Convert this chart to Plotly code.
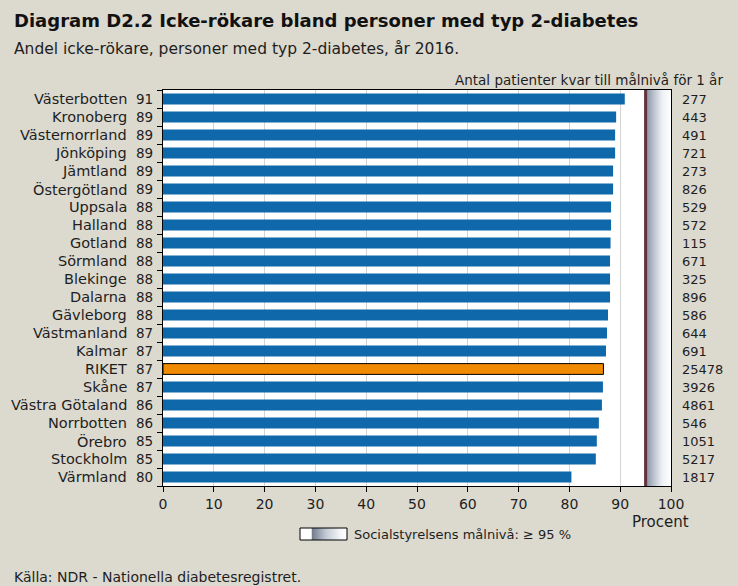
import plotly.graph_objects as go

regions = ["Västerbotten", "Kronoberg", "Västernorrland", "Jönköping", "Jämtland",
           "Östergötland", "Uppsala", "Halland", "Gotland", "Sörmland", "Blekinge",
           "Dalarna", "Gävleborg", "Västmanland", "Kalmar", "RIKET", "Skåne",
           "Västra Götaland", "Norrbotten", "Örebro", "Stockholm", "Värmland"]
percent = [90.9, 89.2, 89.0, 89.0, 88.6, 88.6, 88.2, 88.2, 88.1, 88.0, 88.0,
           88.0, 87.6, 87.4, 87.2, 86.7, 86.6, 86.4, 85.8, 85.4, 85.2, 80.4]
patients_left = [277, 443, 491, 721, 273, 826, 529, 572, 115, 671, 325,
                 896, 586, 644, 691, 25478, 3926, 4861, 546, 1051, 5217, 1817]
x_ticks = [0, 10, 20, 30, 40, 50, 60, 70, 80, 90, 100]
target = 95

W, H = 738, 586
BG = "#dcd9cf"
BLUE = "#0e68aa"
ORANGE = "#f08a00"
TXT = "#1e1e1e"
FONT = "DejaVu Sans"

# plot area pixel box
PX0, PX1, PY0, PY1 = 163, 671, 90, 486


def px(x):
    return x / W


def py(y):
    return 1 - y / H


idx = list(range(len(regions)))
colors = [ORANGE if r == "RIKET" else BLUE for r in regions]
lw = [1 if r == "RIKET" else 0 for r in regions]

fig = go.Figure()

# target zone gradient (95-100)
fig.add_trace(go.Scatter(
    x=[target, 100, 100, target, target], y=[0, 0, 1, 1, 0],
    xaxis="x", yaxis="y2", mode="lines", line=dict(width=0),
    fill="toself",
    fillgradient=dict(type="horizontal",
                      colorscale=[[0, "#8590a3"], [0.35, "#bfc6d2"], [0.65, "#eef0f4"], [1, "#ffffff"]]),
    hoverinfo="skip", showlegend=False))

fig.add_trace(go.Bar(
    x=percent, y=idx, orientation="h", xaxis="x", yaxis="y",
    marker=dict(color=colors, line=dict(color="#000000", width=lw)),
    width=0.6, showlegend=False))

# legend swatch gradient
fig.add_trace(go.Scatter(
    x=[0.25, 1, 1, 0.25, 0.25], y=[0, 0, 1, 1, 0],
    xaxis="x3", yaxis="y3", mode="lines", line=dict(width=0),
    fill="toself",
    fillgradient=dict(type="horizontal",
                      colorscale=[[0, "#6f7a8c"], [0.4, "#c3c9d3"], [0.8, "#f3f5f8"], [1, "#ffffff"]]),
    hoverinfo="skip", showlegend=False))

shapes = [
    dict(type="rect", xref="x domain", yref="y domain", x0=0, x1=1, y0=0, y1=1,
         fillcolor="white", line=dict(width=0), layer="below"),
    dict(type="line", xref="x", yref="y domain", x0=target, x1=target, y0=0, y1=1,
         line=dict(color="#66303c", width=3), layer="above"),
    dict(type="rect", xref="paper", yref="paper", x0=px(300), x1=px(347), y0=py(540), y1=py(528),
         fillcolor="white", line=dict(width=0), layer="below"),
    dict(type="rect", xref="paper", yref="paper", x0=px(300), x1=px(347), y0=py(540), y1=py(528),
         fillcolor="rgba(0,0,0,0)", line=dict(color="black", width=1), layer="above"),
]

ann = []
ann.append(dict(text="<b>Diagram D2.2 Icke-rökare bland personer med typ 2-diabetes</b>",
                x=px(12), y=py(21), xref="paper", yref="paper", xanchor="left", yanchor="middle",
                showarrow=False, font=dict(size=18, color="#111111", family=FONT)))
ann.append(dict(text="Andel icke-rökare, personer med typ 2-diabetes, år 2016.",
                x=px(12), y=py(49), xref="paper", yref="paper", xanchor="left", yanchor="middle",
                showarrow=False, font=dict(size=15.5, color=TXT, family=FONT)))
ann.append(dict(text="Antal patienter kvar till målnivå för 1 år",
                x=px(725), y=py(80), xref="paper", yref="paper", xanchor="right", yanchor="middle",
                showarrow=False, font=dict(size=13.5, color=TXT, family=FONT)))
for i, (r, p, n) in enumerate(zip(regions, percent, patients_left)):
    ann.append(dict(text=r, x=px(129), y=i, xref="paper", yref="y", xanchor="right",
                    yanchor="middle", showarrow=False, font=dict(size=14.5, color=TXT, family=FONT)))
    ann.append(dict(text=str(int(p + 0.5)), x=px(134), y=i, xref="paper", yref="y", xanchor="left",
                    yanchor="middle", showarrow=False, font=dict(size=13.5, color=TXT, family=FONT)))
    ann.append(dict(text=str(n), x=px(680), y=i, xref="paper", yref="y", xanchor="left",
                    yanchor="middle", showarrow=False, font=dict(size=13, color=TXT, family=FONT)))
ann.append(dict(text="Procent", x=px(660), y=py(522), xref="paper", yref="paper", xanchor="center",
                yanchor="middle", showarrow=False, font=dict(size=15, color=TXT, family=FONT)))
ann.append(dict(text="Socialstyrelsens målnivå: ≥ 95 %", x=px(352), y=py(534), xref="paper", yref="paper",
                xanchor="left", yanchor="middle", showarrow=False, font=dict(size=13, color=TXT, family=FONT)))
ann.append(dict(text="Källa: NDR - Nationella diabetesregistret.", x=px(12), y=py(577), xref="paper",
                yref="paper", xanchor="left", yanchor="middle", showarrow=False,
                font=dict(size=14, color=TXT, family=FONT)))

n = len(regions)
fig.update_layout(
    width=W, height=H,
    margin=dict(l=0, r=0, t=0, b=0, autoexpand=False),
    paper_bgcolor=BG, plot_bgcolor="rgba(0,0,0,0)",
    font=dict(family=FONT, color=TXT, size=13),
    xaxis=dict(domain=[px(PX0), px(PX1)], range=[0, 100], tickvals=x_ticks,
               showgrid=True, gridcolor="#d4d4d4", gridwidth=1,
               showline=True, linecolor="black", linewidth=1, mirror=True,
               ticks="outside", ticklen=5, tickcolor="black", automargin=False,
               tickfont=dict(size=14, color=TXT), zeroline=False, anchor="y"),
    yaxis=dict(domain=[py(PY1), py(PY0)], range=[n - 0.5, -0.5],
               tickvals=[k + 0.5 for k in range(-1, n)], showticklabels=False,
               ticks="outside", ticklen=5, tickcolor="black", automargin=False,
               showgrid=False, showline=True, linecolor="black", linewidth=1, mirror=True,
               zeroline=False, anchor="x"),
    yaxis2=dict(domain=[py(PY1), py(PY0)], range=[0, 1], overlaying="y", visible=False,
                anchor="x", automargin=False),
    xaxis3=dict(domain=[px(300), px(347)], range=[0, 1], visible=False, anchor="y3", automargin=False),
    yaxis3=dict(domain=[py(540), py(528)], range=[0, 1], visible=False, anchor="x3", automargin=False),
    shapes=shapes, annotations=ann, bargap=0.4,
)

fig.write_html("out.html", config={"displayModeBar": False},
               post_script="document.body.style.margin='0';document.body.style.background='%s';"
                           "document.body.style.overflow='hidden';" % BG)
